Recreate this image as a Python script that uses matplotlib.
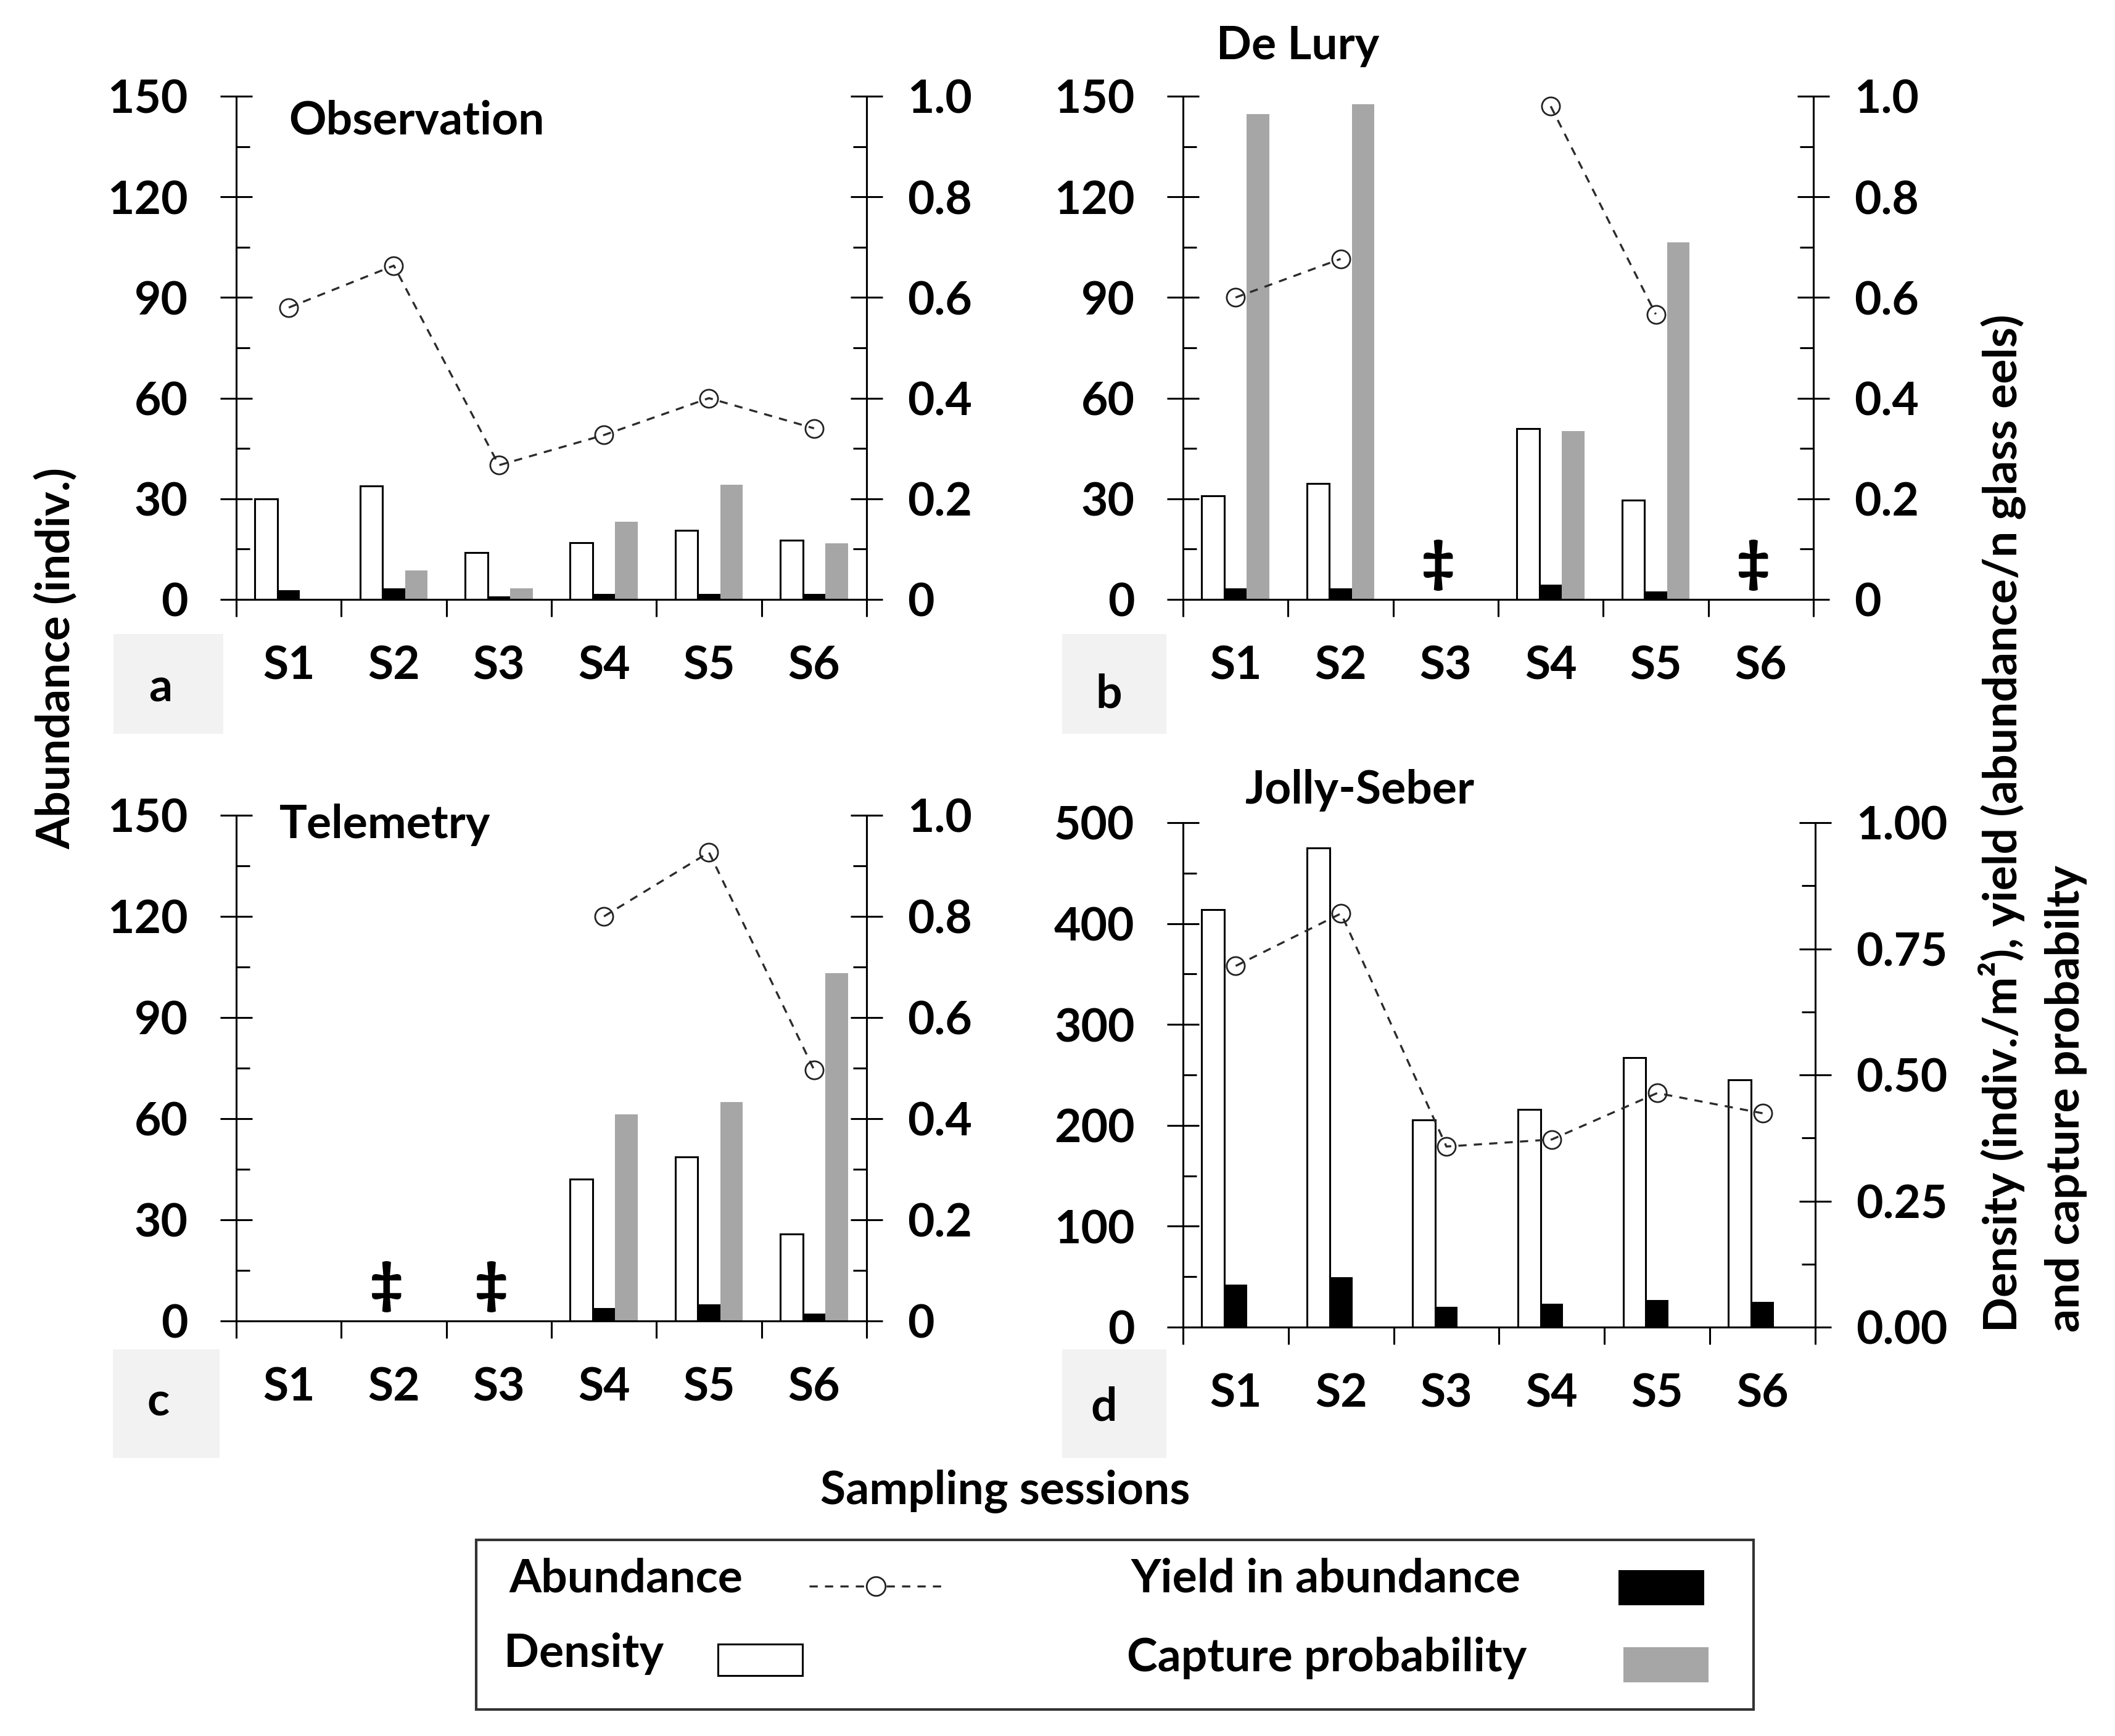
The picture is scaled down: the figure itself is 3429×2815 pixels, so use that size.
import numpy as np
import matplotlib
matplotlib.use("Agg")
import matplotlib.pyplot as plt
from matplotlib.patches import Rectangle
from matplotlib.lines import Line2D

plt.rcParams['font.family'] = ['Lato', 'DejaVu Sans']
plt.rcParams['font.weight'] = 'bold'

nan = np.nan
sessions = ['S1', 'S2', 'S3', 'S4', 'S5', 'S6']

# a - Observation
obs_abund = [87, 99.5, 40, 49, 60, 51]
obs_density = [0.200, 0.225, 0.093, 0.113, 0.137, 0.118]
obs_yield = [0.018, 0.022, 0.006, 0.011, 0.011, 0.011]
obs_capture = [nan, 0.057, 0.022, 0.155, 0.228, 0.111]

# b - De Lury
del_abund = [90, 101.5, nan, 147, 85, nan]
del_density = [0.206, 0.230, nan, 0.339, 0.197, nan]
del_yield = [0.022, 0.022, nan, 0.030, 0.016, nan]
del_capture = [0.965, 0.984, nan, 0.335, 0.710, nan]
del_flags = ['S3', 'S6']

# c - Telemetry
tel_abund = [nan, nan, nan, 120, 139, 74.5]
tel_density = [nan, nan, nan, 0.280, 0.324, 0.172]
tel_yield = [nan, nan, nan, 0.026, 0.033, 0.015]
tel_capture = [nan, nan, nan, 0.409, 0.433, 0.688]
tel_flags = ['S2', 'S3']

# d - Jolly-Seber
js_abund = [358, 410, 179, 186, 232, 212]
js_density = [0.828, 0.950, 0.411, 0.432, 0.534, 0.490]
js_yield = [0.084, 0.099, 0.040, 0.046, 0.054, 0.050]
js_capture = [nan, nan, nan, nan, nan, nan]

right_labels_abc = ['0', '0.2', '0.4', '0.6', '0.8', '1.0']
right_labels_d = ['0.00', '0.25', '0.50', '0.75', '1.00']

W, H = 3430, 2815
FS = 54
LW = 2.2
GRAY = '#a6a6a6'

fig = plt.figure(figsize=(W / 100, H / 100), dpi=100)


def fx(x):
    return x / W


def fy(y):
    return 1 - y / H


def panel(box, abund, dens, yld, capt, lmax, lstep, rticks, rlabels, title, txy, flags):
    l, t, r, b = box
    ax = fig.add_axes([fx(l), fy(b), fx(r - l), (b - t) / H])
    ax2 = ax.twinx()
    x = np.arange(len(sessions))
    w = 0.215
    ax2.bar(x - w, dens, w, color='white', edgecolor='black', linewidth=LW)
    ax2.bar(x, yld, w, color='black', linewidth=0)
    ax2.bar(x + w, capt, w, color=GRAY, linewidth=0)
    ax.plot(x, abund, ls=(0, (4, 3.5)), color='#2b2b2b', lw=2.4, marker='o',
            ms=21, mfc='none', mec='#222222', mew=2, clip_on=False)
    ax.set_zorder(ax2.get_zorder() + 1)
    ax.patch.set_visible(False)

    ax.set_xlim(-0.5, 5.5)
    ax.set_xticks(x)
    ax.set_xticklabels(sessions)
    ax.set_xticks(np.arange(-0.5, 6, 1), minor=True)
    ax.tick_params(axis='x', which='major', length=0, pad=53, labelsize=FS)
    ax.tick_params(axis='x', which='minor', direction='out', length=20, width=LW)

    ax.set_ylim(0, lmax)
    ax.set_yticks(np.arange(0, lmax + 1, lstep))
    ax.set_yticks(np.arange(0, lmax + 1, lstep / 2), minor=True)
    ax.tick_params(axis='y', which='major', direction='inout', length=37, width=LW,
                   pad=38, labelsize=FS)
    ax.tick_params(axis='y', which='minor', direction='in', length=16, width=LW)

    ax2.set_ylim(0, 1)
    ax2.set_yticks(rticks)
    ax2.set_yticklabels(rlabels)
    step = rticks[1] - rticks[0]
    ax2.set_yticks(np.arange(0, 1.0001, step / 2), minor=True)
    ax2.tick_params(axis='y', which='major', direction='inout', length=37, width=LW,
                    pad=29, labelsize=FS)
    ax2.tick_params(axis='y', which='minor', direction='in', length=16, width=LW)

    for a in (ax, ax2):
        a.spines['top'].set_visible(False)
        for s in ('left', 'right', 'bottom'):
            a.spines[s].set_linewidth(LW)
    ax.spines['right'].set_visible(False)
    ax2.spines['left'].set_visible(False)

    ax.text(txy[0], txy[1], title, transform=ax.transAxes, fontsize=FS,
            va='baseline', ha='left')
    for f in flags:
        i = sessions.index(f)
        ax.text(i - 0.07, lmax * 0.068, '\u2021', fontsize=64, ha='center',
                va='center', fontweight='heavy')
    return ax


panel((383, 156, 1405, 972), obs_abund, obs_density, obs_yield, obs_capture,
      150, 30, np.arange(0, 1.01, 0.2), right_labels_abc, 'Observation', (0.083, 0.925), [])
panel((1918, 156, 2940, 972), del_abund, del_density, del_yield, del_capture,
      150, 30, np.arange(0, 1.01, 0.2), right_labels_abc, 'De Lury', (0.053, 1.073), del_flags)
panel((383, 1322, 1405, 2142), tel_abund, tel_density, tel_yield, tel_capture,
      150, 30, np.arange(0, 1.01, 0.2), right_labels_abc, 'Telemetry', (0.068, 0.955), tel_flags)
panel((1918, 1334, 2943, 2152), js_abund, js_density, js_yield, js_capture,
      500, 100, np.arange(0, 1.01, 0.25), right_labels_d, 'Jolly-Seber', (0.098, 1.038), [])

# panel letters in gray boxes
for (x0, y0, x1, y1), letter, lx, ly in [
        ((184, 1028, 362, 1190), 'a', 260, 1138),
        ((1722, 1028, 1891, 1190), 'b', 1798, 1148),
        ((183, 2188, 356, 2364), 'c', 257, 2296),
        ((1722, 2188, 1891, 2364), 'd', 1790, 2303)]:
    fig.add_artist(Rectangle((fx(x0), fy(y1)), fx(x1 - x0), (y1 - y0) / H,
                             transform=fig.transFigure, facecolor='#f2f2f2',
                             edgecolor='none'))
    fig.text(fx(lx), fy(ly), letter, fontsize=FS, ha='center', va='baseline')

# axis titles
fig.text(fx(91), fy(1068), 'Abundance (indiv.)', fontsize=FS, rotation=90,
         ha='center', va='center')
fig.text(fx(3270), fy(2160), 'Density (indiv./m\u00b2), yield (abundance/n glass eels)',
         fontsize=FS, rotation=90, rotation_mode='anchor', ha='left', va='baseline')
fig.text(fx(3371), fy(2160), 'and capture probabilty',
         fontsize=FS, rotation=90, rotation_mode='anchor', ha='left', va='baseline')
fig.text(fx(1630), fy(2439), 'Sampling sessions', fontsize=FS, ha='center', va='baseline')

# legend
fig.add_artist(Rectangle((fx(772), fy(2772)), fx(2843 - 772), (2772 - 2497) / H,
                         transform=fig.transFigure, facecolor='none',
                         edgecolor='#333333', linewidth=3))
fig.text(fx(825), fy(2581), 'Abundance', fontsize=FS, va='baseline')
fig.text(fx(817), fy(2703), 'Density', fontsize=FS, va='baseline')
fig.text(fx(1834), fy(2581), 'Yield in abundance', fontsize=FS, va='baseline')
fig.text(fx(1827), fy(2710), 'Capture probability', fontsize=FS, va='baseline')
fig.add_artist(Line2D([fx(1312), fx(1537)], [fy(2572), fy(2572)], transform=fig.transFigure,
                      ls=(0, (4, 3.5)), color='#2b2b2b', lw=2.4))
fig.add_artist(Line2D([fx(1420)], [fy(2572)], transform=fig.transFigure, ls='none',
                      marker='o', ms=22, mfc='white', mec='#222222', mew=2))
fig.add_artist(Rectangle((fx(1164), fy(2717)), fx(137), 51 / H, transform=fig.transFigure,
                         facecolor='white', edgecolor='black', linewidth=LW))
fig.add_artist(Rectangle((fx(2624), fy(2603)), fx(139), 57 / H, transform=fig.transFigure,
                         facecolor='black', edgecolor='none'))
fig.add_artist(Rectangle((fx(2632), fy(2728)), fx(138), 57 / H, transform=fig.transFigure,
                         facecolor=GRAY, edgecolor='none'))

fig.savefig('out.png', dpi=100, facecolor='white')
